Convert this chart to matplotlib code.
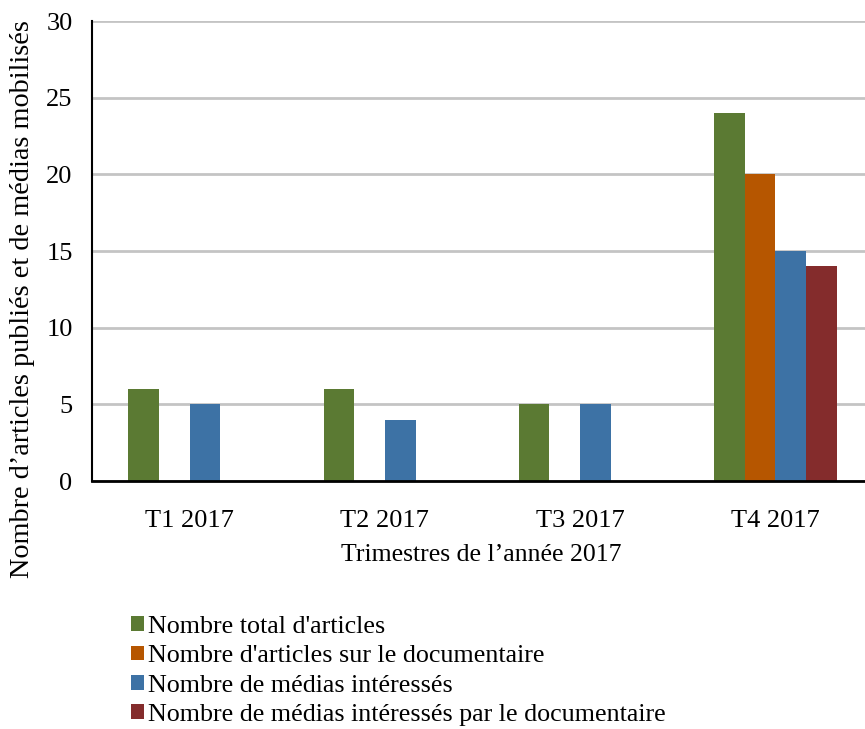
import numpy as np
import matplotlib
matplotlib.use('Agg')
from matplotlib import pyplot as plt

plt.rcParams['font.family'] = ['Liberation Serif', 'DejaVu Serif']

# Data
categories = ['T1 2017', 'T2 2017', 'T3 2017', 'T4 2017']
series_names = [
    "Nombre total d'articles",
    "Nombre d'articles sur le documentaire",
    "Nombre de médias intéressés",
    "Nombre de médias intéressés par le documentaire",
]
total_articles = [6, 6, 5, 24]
articles_doc = [0, 0, 0, 20]
medias = [5, 4, 5, 15]
medias_doc = [0, 0, 0, 14]
colors = ['#5B7A33', '#B65600', '#3D72A5', '#842C2C']

series = [total_articles, articles_doc, medias, medias_doc]

fig = plt.figure(figsize=(8.65, 7.29), dpi=100)
ax = fig.add_axes([92 / 865, 1 - 481 / 729, 781 / 865, 460 / 729])

x = np.arange(len(categories))
w = 0.157
for i, (vals, name, c) in enumerate(zip(series, series_names, colors)):
    ax.bar(x + (i - 1.5) * w, vals, width=w, color=c, label=name, zorder=3)

ax.set_xlim(-0.5, len(categories) - 0.5)
ax.set_ylim(0, 30)
ax.set_yticks(range(0, 31, 5))
ax.set_xticks(x)
ax.set_xticklabels(categories)
ax.tick_params(axis='both', length=0, labelsize=19)
ax.tick_params(axis='x', pad=21)
ax.tick_params(axis='y', pad=14)
ax.yaxis.grid(True, color='#C4C4C4', linewidth=2, zorder=0)
ax.set_axisbelow(True)
for s in ['top', 'right']:
    ax.spines[s].set_visible(False)
ax.spines['left'].set_linewidth(1.5)
ax.spines['bottom'].set_linewidth(2)
ax.spines['bottom'].set_zorder(4)

fig.text(481 / 865, 1 - 555 / 729, 'Trimestres de l’année 2017',
         ha='center', va='center', fontsize=18.5)
fig.text(23 / 865, 1 - 299 / 729, 'Nombre d’articles publiés et de médias mobilisés',
         ha='center', va='center', rotation=90, fontsize=20.3)

leg = fig.legend(loc='upper left', bbox_to_anchor=(118 / 865, 1 - 603 / 729),
                 frameon=False, fontsize=18.7, handlelength=0.5, handleheight=0.5,
                 handletextpad=0.15, labelspacing=0.28, borderpad=0)

fig.savefig('out.png', dpi=100)
